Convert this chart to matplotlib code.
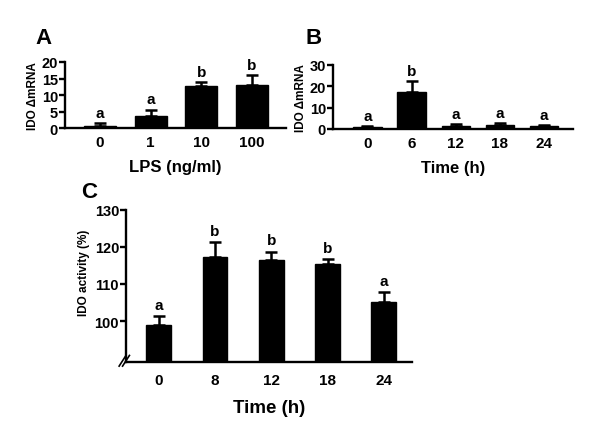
import numpy as np
import matplotlib.pyplot as plt

plt.rcParams['font.family'] = ['Liberation Sans', 'DejaVu Sans']
plt.rcParams['font.weight'] = 'bold'

# panel A: LPS dose
lps_labels = ['0', '1', '10', '100']
lps_mean = [0.8, 3.8, 12.7, 13.0]
lps_err = [0.7, 1.8, 1.2, 3.1]
lps_sig = ['a', 'a', 'b', 'b']

# panel B: mRNA time course
tb_labels = ['0', '6', '12', '18', '24']
tb_mean = [1.0, 17.4, 1.5, 2.0, 1.2]
tb_err = [0.3, 5.0, 0.6, 0.6, 0.6]
tb_sig = ['a', 'b', 'a', 'a', 'a']

# panel C: activity time course
tc_labels = ['0', '8', '12', '18', '24']
tc_mean = [98.9, 117.2, 116.4, 115.5, 105.2]
tc_err = [2.4, 4.1, 2.3, 1.1, 2.6]
tc_sig = ['a', 'b', 'b', 'b', 'a']

fig = plt.figure(figsize=(6, 4.39), dpi=100)
W, H = 600, 439

def add_ax(l, r, t, b):
    return fig.add_axes([l / W, 1 - b / H, (r - l) / W, (b - t) / H])

def style(ax):
    for s in ['top', 'right']:
        ax.spines[s].set_visible(False)
    for s in ['left', 'bottom']:
        ax.spines[s].set_linewidth(1.7)
    ax.tick_params(axis='x', length=0, pad=5, labelsize=11)
    ax.tick_params(axis='y', length=4, width=1.7, pad=1, labelsize=10.5)

def bars(ax, labels, mean, err, sig, width, off, fs=11):
    x = np.arange(len(labels))
    ax.bar(x, mean, width=width, color='black', edgecolor='black', zorder=2)
    ax.errorbar(x, mean, yerr=[np.zeros(len(err)), err], fmt='none',
                ecolor='black', elinewidth=1.8, capsize=4.5, capthick=1.8, zorder=3)
    for xi, m, e, s in zip(x, mean, err, sig):
        ax.text(xi, m + e + off, s, ha='center', va='bottom', fontsize=fs, fontweight='bold')
    ax.set_xticks(x)
    ax.set_xticklabels(labels)

# A
axA = add_ax(65, 286, 63, 129.3)
style(axA)
bars(axA, lps_labels, lps_mean, lps_err, lps_sig, 0.63, 1.0)
axA.set_xlim(-0.69, 3.67)
axA.set_ylim(0, 20)
axA.set_yticks([0, 5, 10, 15, 20])
axA.set_ylabel('IDO ΔmRNA', fontsize=8.5, fontweight='bold', labelpad=2)
axA.set_xlabel('LPS (ng/ml)', fontsize=12, fontweight='bold', labelpad=7)
fig.text(43 / W, 1 - 38 / H, 'A', fontsize=16, fontweight='bold', ha='center', va='center')

# B
axB = add_ax(333, 573, 65.7, 130)
style(axB)
bars(axB, tb_labels, tb_mean, tb_err, tb_sig, 0.64, 1.5)
axB.set_xlim(-0.78, 4.66)
axB.set_ylim(0, 30)
axB.set_yticks([0, 10, 20, 30])
axB.set_ylabel('IDO ΔmRNA', fontsize=8.5, fontweight='bold', labelpad=2)
axB.set_xlabel('Time (h)', fontsize=12, fontweight='bold', labelpad=7)
fig.text(314 / W, 1 - 39 / H, 'B', fontsize=16, fontweight='bold', ha='center', va='center')

# C
axC = add_ax(126, 412, 210.7, 363.3)
style(axC)
bars(axC, tc_labels, tc_mean, tc_err, tc_sig, 0.44, 1.2)
axC.set_xlim(-0.58, 4.5)
axC.set_ylim(88.9, 130)
axC.set_yticks([100, 110, 120, 130])
axC.set_ylabel('IDO activity (%)', fontsize=8.5, fontweight='bold')
axC.yaxis.set_label_coords(-0.125, 0.59)
axC.set_xlabel('Time (h)', fontsize=13.5, fontweight='bold', labelpad=8)
axC.tick_params(axis='x', pad=8)
fig.text(89 / W, 1 - 193 / H, 'C', fontsize=16, fontweight='bold', ha='center', va='center')

# axis break marks
for dx in (-0.012, 0.0):
    axC.plot([dx - 0.012, dx + 0.012], [-0.025, 0.045], transform=axC.transAxes,
             color='black', lw=1.2, clip_on=False)

fig.savefig('out.png', dpi=100)
